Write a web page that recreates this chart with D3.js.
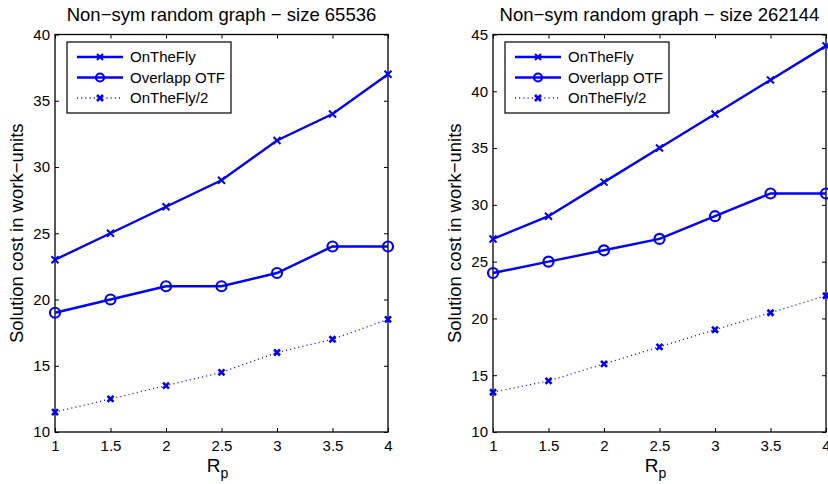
<!DOCTYPE html>
<html lang="en">
<head>
  <meta charset="utf-8" />
  <title>Non-sym random graph</title>
  <script src="https://d3js.org/d3.v7.min.js"></script>
  <style>
    html, body { margin: 0; padding: 0; background: #fff; }
    svg { display: block; font-family: "Liberation Sans", Arial, Helvetica, sans-serif; }
  </style>
</head>
<body>
  <svg id="chart" width="828" height="484"></svg>
  <script>
    // x values shared by both panels
    const rp = [1, 1.5, 2, 2.5, 3, 3.5, 4];
    const xTicks = [1, 1.5, 2, 2.5, 3, 3.5, 4];

    // panel 1: size 65536
    const fly65536 = [23, 25, 27, 29, 32, 34, 37];
    const overlap65536 = [19, 20, 21, 21, 22, 24, 24];
    const half65536 = [11.5, 12.5, 13.5, 14.5, 16, 17, 18.5];
    const yTicks65536 = [10, 15, 20, 25, 30, 35, 40];

    // panel 2: size 262144
    const fly262144 = [27, 29, 32, 35, 38, 41, 44];
    const overlap262144 = [24, 25, 26, 27, 29, 31, 31];
    const half262144 = [13.5, 14.5, 16, 17.5, 19, 20.5, 22];
    const yTicks262144 = [10, 15, 20, 25, 30, 35, 40, 45];

    const seriesNames = ["OnTheFly", "Overlapp OTF", "OnTheFly/2"];
    const blue = "#0000ff";
    const font = '"Liberation Sans", Arial, Helvetica, sans-serif';

    const svg = d3.select("#chart");

    const panels = [
      { title: "Non\u2212sym random graph \u2212 size 65536", left: 55, right: 388,
        yMax: 40, yTicks: yTicks65536, series: [fly65536, overlap65536, half65536], ylabX: 23 },
      { title: "Non\u2212sym random graph \u2212 size 262144", left: 493, right: 826,
        yMax: 45, yTicks: yTicks262144, series: [fly262144, overlap262144, half262144], ylabX: 461 }
    ];

    const plotTop = 34.5, plotBottom = 432;

    function drawMarker(g, type, cx, cy, size, sw) {
      if (type === "o") {
        g.append("circle").attr("cx", cx).attr("cy", cy).attr("r", size)
          .attr("fill", "none").attr("stroke", blue).attr("stroke-width", sw);
      } else {
        const s = size;
        g.append("path")
          .attr("d", `M${cx - s},${cy - s}L${cx + s},${cy + s}M${cx - s},${cy + s}L${cx + s},${cy - s}`)
          .attr("stroke", blue).attr("stroke-width", sw).attr("fill", "none");
      }
    }

    const styles = [
      { marker: "x", width: 2.4, dash: null, msize: 3.5, mw: 2 },
      { marker: "o", width: 2.4, dash: null, msize: 5, mw: 2.2 },
      { marker: "x", width: 1.3, dash: "1,3.2", msize: 3, mw: 2.6 }
    ];

    panels.forEach(p => {
      const x = d3.scaleLinear().domain([1, 4]).range([p.left, p.right]);
      const y = d3.scaleLinear().domain([10, p.yMax]).range([plotBottom, plotTop]);
      const g = svg.append("g");
      const tl = 4;

      // axes with inward ticks on all four sides
      const xb = g.append("g").attr("transform", `translate(0,${plotBottom})`)
        .call(d3.axisBottom(x).tickValues(xTicks).tickSizeInner(-tl).tickSizeOuter(0).tickPadding(8).tickFormat(d3.format("")));
      const xt = g.append("g").attr("transform", `translate(0,${plotTop})`)
        .call(d3.axisTop(x).tickValues(xTicks).tickSizeInner(-tl).tickSizeOuter(0).tickFormat(""));
      const yl = g.append("g").attr("transform", `translate(${p.left},0)`)
        .call(d3.axisLeft(y).tickValues(p.yTicks).tickSizeInner(-tl).tickSizeOuter(0).tickPadding(5));
      const yr = g.append("g").attr("transform", `translate(${p.right},0)`)
        .call(d3.axisRight(y).tickValues(p.yTicks).tickSizeInner(-tl).tickSizeOuter(0).tickFormat(""));
      [xb, xt, yl, yr].forEach(a => {
        a.attr("font-size", 15).attr("font-family", font);
        a.select(".domain").remove();
        a.selectAll(".tick line").attr("stroke", "#000").attr("stroke-width", 1);
        a.selectAll(".tick text").attr("fill", "#000");
      });

      g.append("rect").attr("x", p.left).attr("y", plotTop)
        .attr("width", p.right - p.left).attr("height", plotBottom - plotTop)
        .attr("fill", "none").attr("stroke", "#000").attr("stroke-width", 1.3);

      // series lines and markers
      const line = d3.line().x((d, i) => x(rp[i])).y(d => y(d));
      p.series.forEach((vals, si) => {
        const st = styles[si];
        g.append("path").datum(vals).attr("d", line)
          .attr("fill", "none").attr("stroke", blue).attr("stroke-width", st.width)
          .attr("stroke-dasharray", st.dash);
        vals.forEach((v, i) => drawMarker(g, st.marker, x(rp[i]), y(v), st.msize, st.mw));
      });

      // legend
      const lx = p.left + 12, ly = plotTop + 7.5;
      const leg = g.append("g");
      leg.append("rect").attr("x", lx).attr("y", ly).attr("width", 164).attr("height", 71)
        .attr("fill", "#fff").attr("stroke", "#000").attr("stroke-width", 1.2);
      seriesNames.forEach((name, i) => {
        const st = styles[i];
        const cy = ly + 15 + i * 20.5;
        leg.append("line").attr("x1", lx + 10).attr("x2", lx + 56).attr("y1", cy).attr("y2", cy)
          .attr("stroke", blue).attr("stroke-width", st.width).attr("stroke-dasharray", st.dash);
        drawMarker(leg, st.marker, lx + 33, cy, st.marker === "o" ? 4 : 3, st.mw);
        leg.append("text").attr("x", lx + 63).attr("y", cy).attr("dy", "0.36em")
          .attr("font-size", 15).text(name);
      });

      // titles and labels
      g.append("text").attr("x", (p.left + p.right) / 2).attr("y", 21)
        .attr("font-size", 18.5).attr("text-anchor", "middle").text(p.title);
      const xl = g.append("text").attr("x", (p.left + p.right) / 2 - 4).attr("y", 472)
        .attr("font-size", 19).attr("text-anchor", "middle");
      xl.append("tspan").text("R");
      xl.append("tspan").attr("dy", 6).attr("font-size", 14).text("p");
      g.append("text").attr("font-size", 18.5)
        .attr("transform", `translate(${p.ylabX},${(plotTop + plotBottom) / 2}) rotate(-90)`)
        .attr("text-anchor", "middle").text("Solution cost in work\u2212units");
    });
  </script>
</body>
</html>
